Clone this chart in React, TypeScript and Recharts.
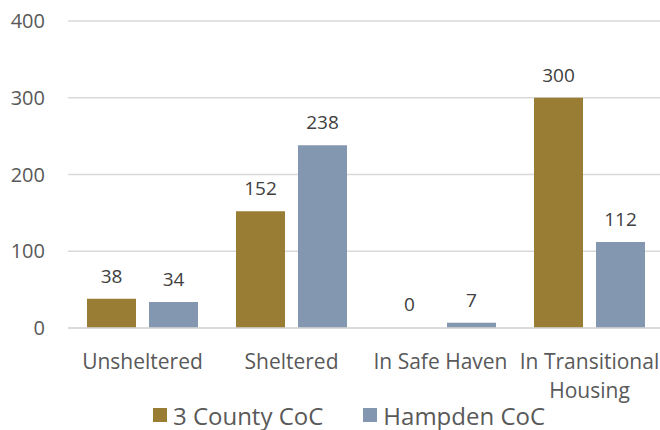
import React from "react";
import { BarChart, Bar, XAxis, YAxis, CartesianGrid, LabelList, Legend, Rectangle } from "recharts";

const categories = ["Unsheltered", "Sheltered", "In Safe Haven", "In Transitional Housing"];
const categoryLines = [["Unsheltered"], ["Sheltered"], ["In Safe Haven"], ["In Transitional", "Housing"]];
const countyValues = [38, 152, 0, 300];
const hampdenValues = [34, 238, 7, 112];
const yTicks = [0, 100, 200, 300, 400];
const seriesNames = ["3 County CoC", "Hampden CoC"];
const colors = ["#997D35", "#8497B0"];

const data = categories.map((c, i) => ({
  name: c,
  county: countyValues[i],
  hampden: hampdenValues[i],
}));

const FONT = "'Open Sans', sans-serif";

const XTick = (props: any) => {
  const { x, y, payload, index } = props;
  const lines = categoryLines[index] || [payload.value];
  return (
    <g>
      {lines.map((l: string, i: number) => (
        <text key={i} x={x} y={y + 39 + i * 29} textAnchor="middle" fill="#595959" fontSize={21} fontFamily={FONT}>
          {l}
        </text>
      ))}
    </g>
  );
};

const renderLabel = (props: any) => {
  const { x, y, width, height, value } = props;
  const top = Math.min(Number(y), Number(y) + Number(height || 0));
  return (
    <text x={Number(x) + Number(width) / 2} y={top - 16} textAnchor="middle" fill="#404040" fontSize={19} fontFamily={FONT}>
      {String(value)}
    </text>
  );
};

const makeShape = (key: string) => (props: any) => {
  const v = props.payload ? props.payload[key] : undefined;
  if (v === 0) return <g />;
  return <Rectangle {...props} />;
};

const minSize = (value: any) => (Number(value) === 0 ? 1 : 0);

const LegendContent = () => (
  <div style={{ display: "flex", justifyContent: "center", height: 30, alignItems: "center", fontFamily: FONT, fontSize: 24, color: "#595959", paddingLeft: 34 }}>
    {seriesNames.map((n, i) => (
      <div key={n} style={{ display: "flex", alignItems: "center", marginRight: i === 0 ? 40 : 0 }}>
        <span style={{ width: 14, height: 14, background: colors[i], display: "inline-block", marginRight: 6 }} />
        <span>{n}</span>
      </div>
    ))}
  </div>
);

export default function App() {
  return (
    <div style={{ position: "absolute", left: 0, top: 0, width: 660, height: 430, overflow: "hidden", background: "#fff" }}>
      <BarChart
        width={672}
        height={430}
        data={data}
        margin={{ top: 21, right: 8, left: 0, bottom: 0 }}
        barGap={13}
        barCategoryGap={19}
      >
        <CartesianGrid vertical={false} stroke="#d9d9d9" strokeWidth={1.5} />
        <XAxis
          dataKey="name"
          height={72}
          tick={<XTick />}
          tickLine={false}
          axisLine={{ stroke: "#d9d9d9", strokeWidth: 1.5 }}
          interval={0}
          tickSize={0}
        />
        <YAxis
          width={68}
          domain={[0, 400]}
          ticks={yTicks}
          axisLine={false}
          tickLine={false}
          tickSize={0}
          tickMargin={23}
          tick={{ fill: "#595959", fontSize: 20, fontFamily: FONT }}
        />
        <Legend verticalAlign="bottom" content={<LegendContent />} />
        <Bar dataKey="county" name={seriesNames[0]} fill={colors[0]} isAnimationActive={false} minPointSize={minSize} shape={makeShape("county")}>
          <LabelList dataKey="county" content={renderLabel} />
        </Bar>
        <Bar dataKey="hampden" name={seriesNames[1]} fill={colors[1]} isAnimationActive={false} minPointSize={minSize} shape={makeShape("hampden")}>
          <LabelList dataKey="hampden" content={renderLabel} />
        </Bar>
      </BarChart>
    </div>
  );
}
